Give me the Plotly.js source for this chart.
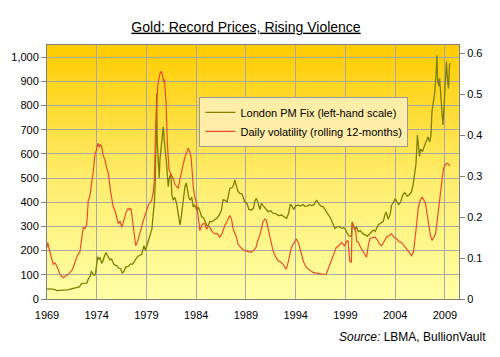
<!DOCTYPE html>
<html>
<head>
<meta charset="utf-8">
<script src="https://cdn.plot.ly/plotly-3.0.1.min.js"></script>
<style>html,body{margin:0;padding:0;background:#fff;}#chart{width:500px;height:357px;}</style>
</head>
<body>
<div id="chart"></div>
<script>
// London PM Fix (USD/oz), decimal years
const goldYears = [1969.00,1969.25,1969.50,1969.75,1970.00,1970.25,1970.50,1970.75,1971.00,1971.25,1971.50,1971.75,1972.00,1972.25,1972.50,1972.75,1973.00,1973.15,1973.35,1973.45,1973.55,1973.70,1973.85,1974.00,1974.10,1974.20,1974.35,1974.50,1974.60,1974.80,1974.94,1975.10,1975.34,1975.50,1975.70,1975.85,1976.00,1976.20,1976.40,1976.57,1976.75,1976.90,1977.17,1977.40,1977.60,1977.85,1978.10,1978.30,1978.52,1978.75,1978.90,1979.02,1979.20,1979.40,1979.55,1979.70,1979.80,1979.90,1979.97,1980.02,1980.08,1980.18,1980.28,1980.35,1980.45,1980.55,1980.69,1980.78,1980.90,1981.02,1981.12,1981.19,1981.30,1981.46,1981.55,1981.69,1981.85,1982.03,1982.20,1982.37,1982.50,1982.62,1982.75,1982.87,1983.00,1983.14,1983.25,1983.37,1983.55,1983.70,1983.85,1984.04,1984.20,1984.40,1984.54,1984.75,1984.90,1985.04,1985.20,1985.35,1985.54,1985.75,1986.04,1986.30,1986.54,1986.70,1986.88,1987.10,1987.38,1987.60,1987.75,1987.88,1988.05,1988.20,1988.38,1988.60,1988.88,1989.10,1989.30,1989.54,1989.75,1989.90,1990.05,1990.20,1990.40,1990.56,1990.75,1991.00,1991.23,1991.50,1991.70,1991.90,1992.10,1992.30,1992.58,1992.80,1993.08,1993.30,1993.45,1993.58,1993.80,1994.00,1994.25,1994.50,1994.75,1994.92,1995.20,1995.40,1995.60,1995.85,1996.10,1996.30,1996.50,1996.77,1997.00,1997.27,1997.50,1997.75,1997.94,1998.20,1998.40,1998.61,1998.80,1999.00,1999.28,1999.50,1999.60,1999.68,1999.80,1999.95,2000.10,2000.30,2000.50,2000.75,2000.97,2001.20,2001.40,2001.64,2001.80,2002.00,2002.30,2002.60,2002.80,2002.97,2003.10,2003.30,2003.50,2003.64,2003.85,2004.00,2004.20,2004.35,2004.55,2004.75,2004.97,2005.20,2005.40,2005.64,2005.80,2005.97,2006.10,2006.24,2006.35,2006.45,2006.57,2006.75,2006.97,2007.15,2007.30,2007.47,2007.60,2007.70,2007.85,2007.97,2008.10,2008.20,2008.28,2008.40,2008.47,2008.60,2008.72,2008.80,2008.90,2008.97,2009.10,2009.15,2009.28,2009.37,2009.45,2009.50];
const goldPrice = [42,43,41,40,35,36,36,37,38,40,42,43,46,50,65,64,66,82,95,115,108,98,100,135,175,165,170,147,155,180,192,178,162,165,145,140,138,128,125,106,115,132,135,145,144,160,175,180,185,220,200,218,242,265,290,360,400,500,680,850,650,533,500,574,620,660,712,660,620,561,500,464,500,519,430,409,420,395,350,306,340,380,430,464,480,437,420,409,420,381,390,368,380,360,340,335,320,306,300,320,319,325,333,345,368,410,409,400,457,460,470,492,470,445,437,435,402,395,370,368,375,405,416,400,370,395,385,370,361,365,355,354,350,345,347,340,333,355,390,388,370,385,388,385,390,383,385,390,386,390,409,395,385,381,365,345,335,310,292,298,300,292,295,288,264,258,260,319,300,285,300,278,283,270,265,260,268,278,285,280,306,315,320,347,360,330,350,388,400,415,400,390,400,430,440,425,430,443,470,520,560,678,640,590,620,610,636,660,670,650,675,774,810,850,920,1008,900,880,912,820,780,719,780,843,920,981,900,871,960,975];

// Daily volatility, rolling 12 months (right-hand scale)
const volYears = [1969.00,1969.07,1969.15,1969.30,1969.45,1969.63,1969.80,1969.97,1970.15,1970.30,1970.50,1970.64,1970.80,1970.98,1971.15,1971.30,1971.50,1971.64,1971.80,1971.98,1972.15,1972.30,1972.50,1972.65,1972.80,1972.99,1973.15,1973.30,1973.50,1973.65,1973.83,1974.00,1974.10,1974.25,1974.35,1974.50,1974.65,1974.83,1975.00,1975.17,1975.35,1975.50,1975.65,1975.84,1976.00,1976.17,1976.35,1976.51,1976.70,1976.84,1977.00,1977.17,1977.30,1977.45,1977.55,1977.68,1977.80,1977.92,1978.10,1978.35,1978.50,1978.69,1978.85,1979.02,1979.20,1979.35,1979.52,1979.68,1979.79,1979.93,1980.02,1980.13,1980.30,1980.46,1980.60,1980.70,1980.80,1980.90,1980.97,1981.10,1981.27,1981.45,1981.70,1981.85,1982.05,1982.20,1982.35,1982.54,1982.70,1982.88,1983.05,1983.21,1983.35,1983.48,1983.60,1983.70,1983.85,1984.04,1984.20,1984.37,1984.55,1984.70,1984.87,1985.05,1985.20,1985.37,1985.60,1985.87,1986.10,1986.37,1986.60,1986.88,1987.10,1987.25,1987.38,1987.55,1987.71,1987.90,1988.05,1988.20,1988.50,1988.88,1989.20,1989.54,1989.80,1990.00,1990.20,1990.45,1990.71,1990.90,1991.05,1991.20,1991.38,1991.55,1991.72,1991.95,1992.22,1992.50,1992.72,1992.90,1993.06,1993.30,1993.56,1993.80,1994.06,1994.30,1994.56,1994.80,1995.07,1995.40,1995.74,1996.10,1996.41,1996.75,1997.08,1997.30,1997.58,1997.80,1998.09,1998.35,1998.59,1998.92,1999.10,1999.26,1999.43,1999.60,1999.68,1999.85,2000.00,2000.15,2000.30,2000.55,2000.80,2001.00,2001.13,2001.30,2001.46,2001.70,2001.96,2002.20,2002.40,2002.64,2002.90,2003.14,2003.40,2003.64,2003.90,2004.15,2004.40,2004.65,2004.90,2005.15,2005.40,2005.65,2005.85,2005.98,2006.15,2006.32,2006.50,2006.72,2006.90,2007.06,2007.20,2007.39,2007.55,2007.72,2007.90,2008.06,2008.25,2008.40,2008.55,2008.73,2008.88,2009.00,2009.15,2009.27,2009.40,2009.50];
const volValues = [0.125,0.138,0.130,0.110,0.100,0.085,0.088,0.081,0.070,0.061,0.055,0.052,0.055,0.057,0.060,0.065,0.070,0.077,0.090,0.102,0.110,0.114,0.150,0.175,0.172,0.180,0.241,0.250,0.286,0.310,0.356,0.365,0.380,0.370,0.378,0.372,0.350,0.339,0.320,0.307,0.270,0.249,0.225,0.216,0.200,0.184,0.190,0.175,0.190,0.200,0.215,0.221,0.218,0.221,0.200,0.167,0.140,0.130,0.140,0.159,0.175,0.192,0.205,0.216,0.230,0.235,0.241,0.260,0.290,0.421,0.470,0.520,0.545,0.556,0.550,0.530,0.536,0.510,0.479,0.380,0.315,0.305,0.294,0.280,0.275,0.270,0.290,0.315,0.330,0.347,0.360,0.368,0.360,0.347,0.310,0.274,0.250,0.233,0.200,0.167,0.180,0.184,0.184,0.170,0.178,0.175,0.165,0.159,0.160,0.151,0.160,0.180,0.190,0.198,0.204,0.195,0.171,0.160,0.150,0.134,0.125,0.118,0.116,0.114,0.120,0.125,0.143,0.160,0.188,0.195,0.192,0.175,0.159,0.134,0.118,0.105,0.093,0.090,0.085,0.078,0.073,0.095,0.126,0.135,0.147,0.135,0.110,0.090,0.077,0.070,0.065,0.063,0.061,0.060,0.061,0.075,0.093,0.110,0.126,0.130,0.138,0.130,0.140,0.143,0.093,0.089,0.188,0.175,0.170,0.140,0.138,0.125,0.114,0.105,0.102,0.130,0.147,0.150,0.151,0.145,0.135,0.130,0.140,0.151,0.155,0.159,0.150,0.147,0.140,0.138,0.130,0.122,0.112,0.106,0.115,0.138,0.180,0.221,0.240,0.249,0.240,0.233,0.210,0.180,0.155,0.143,0.150,0.159,0.195,0.229,0.260,0.294,0.320,0.327,0.331,0.331,0.328,0.325];

const yearTicks = [1969,1974,1979,1984,1989,1994,1999,2004,2009];
const yearTickLabels = ['1969','1974','1979','1984','1989','1994','1999','2004','2009'];
const seriesNames = ['London PM Fix (left-hand scale)','Daily volatility (rolling 12-months)'];

const gradSvg = '<svg xmlns="http://www.w3.org/2000/svg" width="100" height="100" preserveAspectRatio="none">' +
  '<defs><linearGradient id="g" x1="0" y1="0" x2="0" y2="1">' +
  '<stop offset="0" stop-color="#FFCC00"/><stop offset="0.55" stop-color="#FFEE70"/><stop offset="1" stop-color="#FFFFA6"/>' +
  '</linearGradient></defs><rect width="100" height="100" fill="url(#g)"/></svg>';
const gradSrc = 'data:image/svg+xml;charset=utf-8,' + encodeURIComponent(gradSvg);

const font = 'Liberation Sans, Arial, sans-serif';

const traces = [
  {x: goldYears, y: goldPrice, type: 'scatter', mode: 'lines', name: seriesNames[0],
   line: {color: '#7F7F00', width: 1.3}, yaxis: 'y'},
  {x: volYears, y: volValues, type: 'scatter', mode: 'lines', name: seriesNames[1],
   line: {color: '#E5502C', width: 1.2}, yaxis: 'y2'}
];

const layout = {
  width: 500, height: 357,
  margin: {l: 47, r: 41, t: 45, b: 58, pad: 0},
  paper_bgcolor: '#FFFFFF',
  plot_bgcolor: 'rgba(0,0,0,0)',
  font: {family: font, size: 11, color: '#000'},
  showlegend: true,
  title: {text: '<u>Gold: Record Prices, Rising Violence</u>', x: 0.492, xanchor: 'center',
          y: 0.925, yanchor: 'middle', font: {family: font, size: 14, color: '#000'}},
  xaxis: {range: [1969, 2010.42], tickmode: 'array', tickvals: yearTicks, ticktext: yearTickLabels,
          showgrid: true, gridcolor: '#A8A8A8', gridwidth: 1, zeroline: false,
          showline: true, linecolor: '#808080', linewidth: 1, mirror: true,
          ticks: '', ticklabelstandoff: 6, tickfont: {family: font, size: 11, color: '#000'}},
  yaxis: {range: [0, 1050], dtick: 100, tick0: 0, tickformat: ',', showgrid: true, gridcolor: '#A8A8A8',
          gridwidth: 1, zeroline: false, showline: true, linecolor: '#808080', linewidth: 1, mirror: true,
          ticks: 'outside', ticklen: 5, tickcolor: '#808080', tickfont: {family: font, size: 11, color: '#000'}},
  yaxis2: {range: [0, 0.62], dtick: 0.1, tick0: 0, overlaying: 'y', side: 'right', showgrid: false,
           zeroline: false, showline: true, linecolor: '#808080', linewidth: 1,
           ticks: 'outside', ticklen: 5, tickcolor: '#808080', tickfont: {family: font, size: 11, color: '#000'}},
  legend: {x: 0.37, y: 0.796, xanchor: 'left', yanchor: 'top', bgcolor: '#FFEDA8',
           bordercolor: '#9A9A9A', borderwidth: 1, itemwidth: 30, font: {family: font, size: 11, color: '#000'}},
  images: [{source: gradSrc, xref: 'paper', yref: 'paper', x: 0, y: 1, sizex: 1, sizey: 1,
            sizing: 'stretch', xanchor: 'left', yanchor: 'top', layer: 'below'}],
  annotations: [{text: '<i>Source:</i> LBMA, BullionVault', xref: 'paper', yref: 'paper',
                 x: 1.07, y: -0.15, xanchor: 'right', yanchor: 'middle', showarrow: false,
                 font: {family: font, size: 12, color: '#000'}}]
};

Plotly.newPlot('chart', traces, layout, {displayModeBar: false, staticPlot: true});
</script>
</body>
</html>
